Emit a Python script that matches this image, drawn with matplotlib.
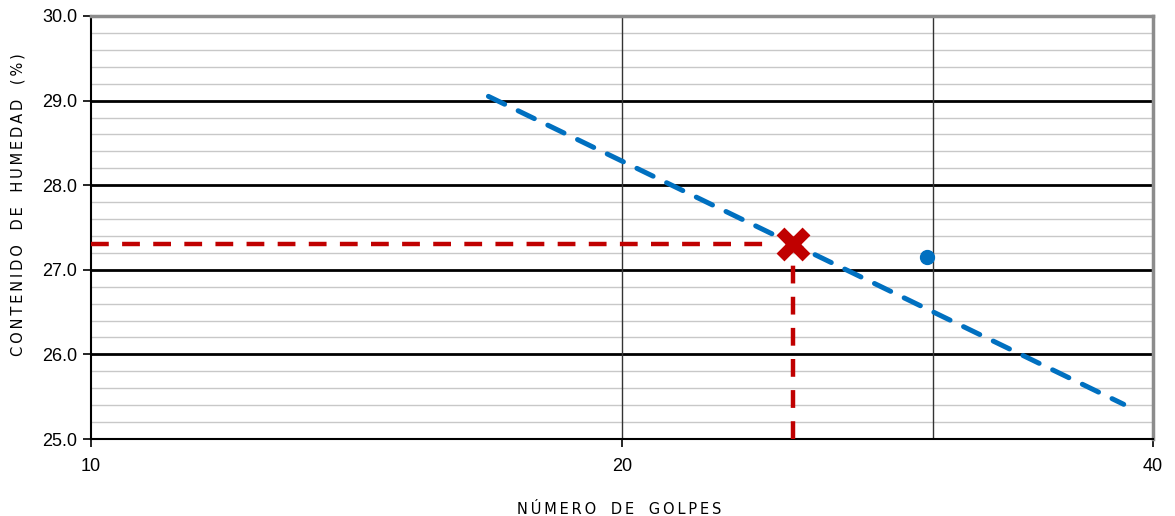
import matplotlib
matplotlib.use("Agg")
import matplotlib.pyplot as plt
from matplotlib.ticker import FixedLocator, NullFormatter, FixedFormatter
import numpy as np

plt.rcParams['font.family'] = ['Liberation Sans', 'DejaVu Sans']

# Measured point (blows, moisture %)
golpes = [29.8]
humedad = [27.15]

# Fitted trend line endpoints (blows, moisture %)
trend_golpes = [16.8, 38.5]
trend_humedad = [29.05, 25.41]

# Liquid limit read at 25 blows
ll_golpes = 25.0
ll_humedad = 27.3

x_ticks = [10, 20, 40]
x_grid = [20, 30]
y_ticks = [25.0, 26.0, 27.0, 28.0, 29.0, 30.0]


def spaced(text):
    """Letter-spaced caption: thin spaces between letters, wide gaps between words."""
    return '\u2003'.join('\u2009'.join(word) for word in text.split(' '))


W, H = 1175, 516
fig = plt.figure(figsize=(W / 100, H / 100), dpi=100)
ax = fig.add_axes([91 / W, 1 - 439 / H, (1153 - 91) / W, (439 - 16) / H])

ax.set_xscale('log')
ax.set_xlim(10, 40)
ax.set_ylim(25, 30)

# Minor horizontal grid every 0.2
for v in np.arange(25.2, 30.0, 0.2):
    if abs(v - round(v)) > 1e-6:
        ax.axhline(v, color='#c8c8c8', lw=1.0, zorder=1)
# Major horizontal grid
for v in y_ticks[1:-1]:
    ax.axhline(v, color='black', lw=2.0, zorder=2)
# Vertical grid
for v in x_grid:
    ax.axvline(v, color='#333333', lw=1.0, zorder=2)

# Trend line
ax.plot(trend_golpes, trend_humedad, color='#0070C0', lw=3.6,
        dashes=(3.6, 3.0), dash_capstyle='round', zorder=4)

# Measured point
ax.plot(golpes, humedad, 'o', color='#0070C0', ms=10, zorder=5)

# Reading lines at 25 blows
ax.plot([10, ll_golpes * 0.975], [ll_humedad, ll_humedad], color='#C00000', lw=3.2,
        dashes=(4, 3), zorder=3)
ax.plot([ll_golpes, ll_golpes], [25.0, ll_humedad - 0.12], color='#C00000', lw=3.2,
        dashes=(4, 3), zorder=3, clip_on=False)
ax.plot([ll_golpes], [ll_humedad], marker='x', color='#C00000', ms=19, mew=8,
        zorder=6)

# Ticks
ax.xaxis.set_major_locator(FixedLocator(x_ticks))
ax.xaxis.set_major_formatter(FixedFormatter([str(t) for t in x_ticks]))
ax.xaxis.set_minor_locator(FixedLocator([]))
ax.xaxis.set_minor_formatter(NullFormatter())
ax.yaxis.set_major_locator(FixedLocator(y_ticks))
ax.set_yticklabels([f"{t:.1f}" for t in y_ticks])
ax.tick_params(axis='both', which='major', direction='out', length=6, width=1.2,
               labelsize=13, colors='black', pad=4)
ax.tick_params(axis='x', pad=8)

for s in ['left', 'bottom']:
    ax.spines[s].set_color('black')
    ax.spines[s].set_linewidth(1.5)
for s in ['top', 'right']:
    ax.spines[s].set_color('#8c8c8c')
    ax.spines[s].set_linewidth(2.5)

fig.text(619 / W, 1 - 509 / H, spaced('NÚMERO DE GOLPES'), fontsize=10.5,
         ha='center', va='center', family=['DejaVu Sans'])
fig.text(18 / W, 1 - 205 / H, spaced('CONTENIDO DE HUMEDAD (%)'),
         fontsize=10.5, rotation=90, ha='center', va='center', family=['DejaVu Sans'])

fig.savefig('out.png', dpi=100)
